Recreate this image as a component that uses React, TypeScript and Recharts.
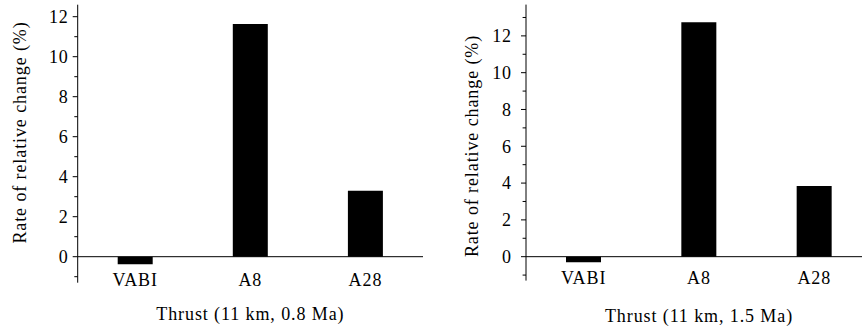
import React from 'react';
import { BarChart, Bar, XAxis, YAxis, ReferenceLine } from 'recharts';

// categories and values
const categories = ['VABI', 'A8', 'A28'];
const change08Ma = [-0.38, 11.63, 3.3];
const change15Ma = [-0.3, 12.74, 3.84];

const leftTicks = [-1, 0, 1, 2, 3, 4, 5, 6, 7, 8, 9, 10, 11, 12];
const rightTicks = [-1, 0, 1, 2, 3, 4, 5, 6, 7, 8, 9, 10, 11, 12, 13];

const yTitle = 'Rate of relative change (%)';
const xTitleLeft = 'Thrust (11 km, 0.8 Ma)';
const xTitleRight = 'Thrust (11 km, 1.5 Ma)';

const FONT = 'Liberation Serif';
const FS = 18;
const textStyle = { fontFamily: FONT, fontSize: FS, letterSpacing: 0.9 };

const toRows = (vals: number[]) => categories.map((name, i) => ({ name, value: vals[i] }));

// y tick: long tick + label on even values, short tick on odd ones
const YTick = (props: any) => {
  const { x, y, payload, gap } = props;
  const v = payload.value;
  const major = v % 2 === 0;
  return (
    <g>
      <line x1={x - (major ? 5 : 3.4)} x2={x} y1={y} y2={y} stroke="#000" strokeWidth={1} />
      {major && (
        <text x={x - gap} y={y} dy="0.35em" textAnchor="end" style={textStyle} fill="#000">
          {v}
        </text>
      )}
    </g>
  );
};

const XTick = (props: any) => {
  const { x, y, payload } = props;
  return (
    <text x={x} y={y + 3} textAnchor="middle" style={textStyle} fill="#000">
      {payload.value}
    </text>
  );
};

const Title = (props: any) => {
  const { tx, ty, text, rotate } = props;
  return (
    <text
      x={tx}
      y={ty}
      textAnchor="middle"
      style={textStyle}
      fill="#000"
      transform={rotate ? `rotate(-90, ${tx}, ${ty})` : undefined}
    >
      {text}
    </text>
  );
};

interface PanelProps {
  values: number[];
  ticks: number[];
  domain: [number, number];
  width: number;
  margin: { top: number; right: number; bottom: number; left: number };
  xHeight: number;
  tickGap: number;
  yTitlePos: [number, number];
  xTitle: string;
  xTitlePos: [number, number];
}

function Panel({ values, ticks, domain, width, margin, xHeight, tickGap, yTitlePos, xTitle, xTitlePos }: PanelProps) {
  const data = toRows(values);
  return (
    <BarChart width={width} height={332} data={data} margin={margin} barCategoryGap={0}>
      <XAxis
        dataKey="name"
        axisLine={false}
        tickLine={false}
        tickSize={0}
        tickMargin={0}
        height={xHeight}
        interval={0}
        tick={<XTick />}
        label={<Title tx={xTitlePos[0]} ty={xTitlePos[1]} text={xTitle} />}
      />
      <YAxis
        type="number"
        domain={domain}
        ticks={ticks}
        interval={0}
        width={60}
        tickSize={0}
        tickMargin={0}
        tickLine={false}
        axisLine={{ stroke: '#000', strokeWidth: 1 }}
        tick={<YTick gap={tickGap} />}
        label={<Title tx={yTitlePos[0]} ty={yTitlePos[1]} text={yTitle} rotate />}
      />
      <ReferenceLine y={0} stroke="#000" strokeWidth={1} />
      <Bar dataKey="value" fill="#000" barSize={35} isAnimationActive={false} />
    </BarChart>
  );
}

export default function App() {
  return (
    <div style={{ position: 'absolute', left: 0, top: 0, width: 862, height: 332, overflow: 'hidden', background: '#fff' }}>
      <div style={{ position: 'absolute', left: 0, top: 0 }}>
        <Panel
          values={change08Ma}
          ticks={leftTicks}
          domain={[-1.3, 12.6]}
          width={431}
          margin={{ top: 4.7, right: 8, bottom: 0, left: 17.7 }}
          xHeight={49.3}
          tickGap={9}
          yTitlePos={[25.5, 132.5]}
          xTitle={xTitleLeft}
          xTitlePos={[250.4, 320]}
        />
      </div>
      <div style={{ position: 'absolute', left: 431, top: 0 }}>
        <Panel
          values={change15Ma}
          ticks={rightTicks}
          domain={[-1.3, 13.7]}
          width={441}
          margin={{ top: 4.6, right: 0, bottom: 0, left: 35 }}
          xHeight={51.4}
          tickGap={14}
          yTitlePos={[46.7, 146]}
          xTitle={xTitleRight}
          xTitlePos={[268, 321.5]}
        />
      </div>
    </div>
  );
}
